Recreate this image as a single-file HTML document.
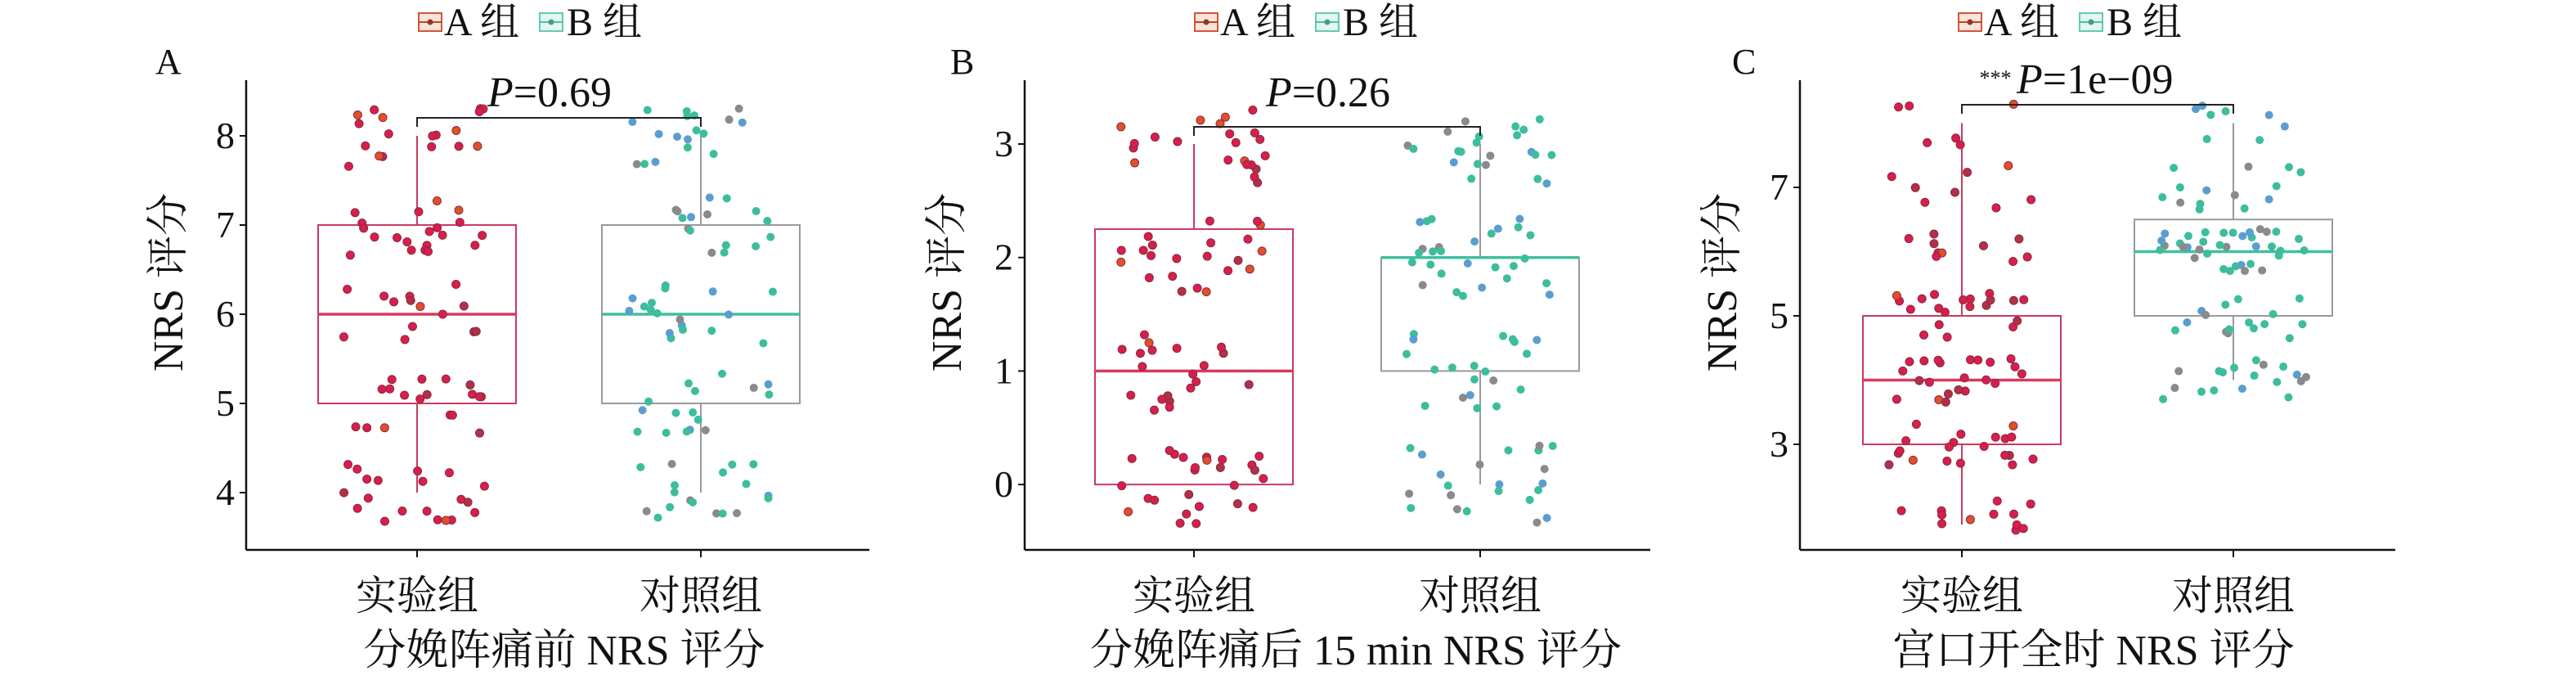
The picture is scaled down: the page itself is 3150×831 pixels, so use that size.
<!DOCTYPE html>
<html><head><meta charset="utf-8"><style>
html,body{margin:0;padding:0;background:#fff;}
svg{display:block;}
text{font-family:"Liberation Serif","Noto Serif CJK SC",serif;fill:#111;}
</style></head><body>
<svg id="s" width="3150" height="831" viewBox="0 0 3150 831" xmlns="http://www.w3.org/2000/svg">
<rect width="3150" height="831" fill="#fff"/>
</svg>
<script>
const S=document.getElementById('s');const NS='http://www.w3.org/2000/svg';
function el(t,a,txt){const e=document.createElementNS(NS,t);for(const k in a)e.setAttribute(k,a[k]);if(txt!==undefined)e.textContent=txt;S.appendChild(e);return e;}
let seed=12345;function rnd(){seed=(seed*16807)%2147483647;return (seed-1)/2147483646;}
function legend(cx){
  const y=27;
  const x0=cx-144;
  el('rect',{x:x0,y:y-11,width:28,height:22,fill:'#fbe3d8',stroke:'#d2553f','stroke-width':2});
  el('line',{x1:x0,y1:y,x2:x0+28,y2:y,stroke:'#b44a2a','stroke-width':2});
  el('circle',{cx:x0+14,cy:y,r:3.5,fill:'#8a3a2a'});
  el('text',{x:x0+31,y:y+16,'font-size':48},'A 组');
  const x1=cx+4;
  el('rect',{x:x1,y:y-11,width:28,height:22,fill:'#e3f6f1',stroke:'#66c9b3','stroke-width':2});
  el('line',{x1:x1,y1:y,x2:x1+28,y2:y,stroke:'#4dbfa4','stroke-width':2});
  el('circle',{cx:x1+14,cy:y,r:3.5,fill:'#4a9a8a'});
  el('text',{x:x1+33,y:y+16,'font-size':48},'B 组');
}
function panel(o){
  const Y=v=>o.y0+(v-o.v0)*o.k;
  el('line',{x1:o.ax,y1:98,x2:o.ax,y2:672,stroke:'#111','stroke-width':2.5});
  el('line',{x1:o.ax,y1:672,x2:o.axEnd,y2:672,stroke:'#111','stroke-width':2.5});
  o.ticks.forEach(t=>{const y=Y(t);el('line',{x1:o.ax-8,y1:y,x2:o.ax,y2:y,stroke:'#111','stroke-width':2});
    el('text',{x:o.ax-14,y:y+15,'font-size':46,'text-anchor':'end'},String(t));});
  [o.c1,o.c2].forEach(c=>el('line',{x1:c,y1:672,x2:c,y2:681,stroke:'#111','stroke-width':2}));
  el('text',{x:o.c1,y:745,'font-size':50,'text-anchor':'middle'},'实验组');
  el('text',{x:o.c2,y:745,'font-size':50,'text-anchor':'middle'},'对照组');
  el('text',{x:o.tx,y:812,'font-size':52,'text-anchor':'middle'},o.title);
  el('text',{x:o.lx,y:90,'font-size':44},o.letter);
  el('text',{x:0,y:0,'font-size':52,'text-anchor':'middle',transform:`translate(${o.ax-78},345) rotate(-90)`},'NRS 评分');
  legend(o.leg);
  const hw=121;
  const bx=[[o.c1,o.bA,'#c93a62','#d63a60'],[o.c2,o.bB,'#9a9a9a','#3fbf9f']];
  bx.forEach(([c,b,sc,mc])=>{
    el('line',{x1:c,y1:Y(b[4]),x2:c,y2:Y(b[3]),stroke:sc,'stroke-width':2});
    el('line',{x1:c,y1:Y(b[1]),x2:c,y2:Y(b[0]),stroke:sc,'stroke-width':2});
    el('rect',{x:c-hw,y:Y(b[3]),width:2*hw,height:Y(b[1])-Y(b[3]),fill:'none',stroke:sc,'stroke-width':2});
    el('line',{x1:c-hw,y1:Y(b[2]),x2:c+hw,y2:Y(b[2]),stroke:mc,'stroke-width':3.5});
  });
  o.ptsA.forEach(([v,n])=>{for(let i=0;i<n;i++){const x=o.c1+(rnd()-0.5)*180,y=Y(v+(rnd()-0.5)*0.7);
    const r=rnd();const col=r<0.75?'#d81e4c':(r<0.9?'#b0304a':'#e0502a');
    el('circle',{cx:x,cy:y,r:5,fill:col,stroke:'#8a2a40','stroke-width':1});}});
  o.ptsB.forEach(([v,n])=>{for(let i=0;i<n;i++){const x=o.c2+(rnd()-0.5)*180,y=Y(v+(rnd()-0.5)*0.7);
    const r=rnd();const col=r<0.6?'#3dbd9e':(r<0.8?'#5a9ed0':'#8a8a8a');
    el('circle',{cx:x,cy:y,r:5,fill:col});}});
  el('path',{d:`M${o.c1},${o.br+11}V${o.br}H${o.c2}V${o.br+11}`,fill:'none',stroke:'#222','stroke-width':2});
  const t=el('text',{x:o.px,y:o.py,'font-size':52,'text-anchor':'middle'});
  if(o.stars){const s=document.createElementNS(NS,'tspan');s.setAttribute('font-size','26');s.setAttribute('dy','-10');s.textContent='*** ';t.appendChild(s);}
  const p=document.createElementNS(NS,'tspan');p.setAttribute('font-style','italic');p.textContent='P';if(o.stars)p.setAttribute('dy','10');t.appendChild(p);
  const r2=document.createElementNS(NS,'tspan');r2.textContent=o.ptxt;t.appendChild(r2);
}
panel({ax:301,axEnd:1063,v0:8,y0:166,k:-109,ticks:[8,7,6,5,4],c1:510,c2:857,
  tx:690,title:'分娩阵痛前 NRS 评分',lx:190,letter:'A',leg:656,
  bA:[4,5,6,7,8],bB:[4,5,6,7,8],
  ptsA:[[8,18],[7,20],[6,14],[5,18],[4,20]],ptsB:[[8,18],[7,16],[6,18],[5,16],[4,18]],
  br:144,px:672,py:130,ptxt:'=0.69'});
panel({ax:1253,axEnd:2018,v0:3,y0:176,k:-138.7,ticks:[3,2,1,0],c1:1460,c2:1810,
  tx:1658,title:'分娩阵痛后 15 min NRS 评分',lx:1162,letter:'B',leg:1605,
  bA:[0,0,1,2.25,3],bB:[0,1,2,2,3],
  ptsA:[[3,22],[2,22],[1,20],[0,26]],ptsB:[[3,22],[2,28],[1,20],[0,22]],
  br:155,px:1624,py:130,ptxt:'=0.26'});
panel({ax:2201,axEnd:2929,v0:7,y0:229,k:-78.5,ticks:[7,5,3],c1:2399,c2:2731,
  tx:2560,title:'宫口开全时 NRS 评分',lx:2118,letter:'C',leg:2539,
  bA:[1.75,3,4,5,8],bB:[4,5,6,6.5,8],
  ptsA:[[8,6],[7,8],[6,10],[5,20],[4,22],[3,20],[2,12]],ptsB:[[8,8],[7,14],[6,36],[5,16],[4,18]],
  br:128,px:2539,py:114,ptxt:'=1e−09',stars:true});
</script>
</body></html>
